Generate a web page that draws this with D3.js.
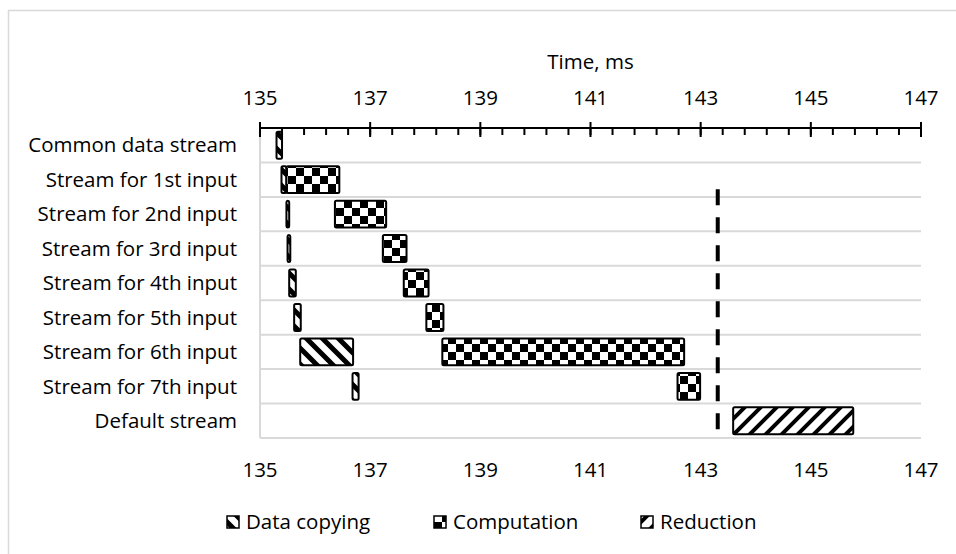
<!DOCTYPE html>
<html>
<head>
<meta charset="utf-8">
<script src="https://cdn.jsdelivr.net/npm/d3@7"></script>
<style>
  body { margin: 0; background: #fff; }
  text { font-family: "Open Sans", sans-serif; fill: #000; font-size: 20.5px; }
</style>
</head>
<body>
<div id="chart"></div>
<script>
// rows, top to bottom
const streams = ["Common data stream", "Stream for 1st input", "Stream for 2nd input",
  "Stream for 3rd input", "Stream for 4th input", "Stream for 5th input",
  "Stream for 6th input", "Stream for 7th input", "Default stream"];

// times in ms, null = nothing in that row
const copyStart = [135.30, 135.39, 135.48, 135.50, 135.53, 135.62, 135.73, 136.68, null];
const copyEnd   = [135.40, 135.48, 135.53, 135.55, 135.65, 135.74, 136.69, 136.79, null];
const compStart = [null, 135.48, 136.36, 137.23, 137.61, 138.02, 138.31, 142.58, null];
const compEnd   = [null, 136.44, 137.29, 137.66, 138.06, 138.33, 142.70, 142.99, null];
const redStart  = [null, null, null, null, null, null, null, null, 143.59];
const redEnd    = [null, null, null, null, null, null, null, null, 145.77];

const syncTime = 143.31;   // dashed line
const majorTicks = [135, 137, 139, 141, 143, 145, 147];
const legendNames = ["Data copying", "Computation", "Reduction"];

const W = 956, H = 554;
const svg = d3.select("#chart").append("svg")
  .attr("width", W).attr("height", H);

// patterns
const defs = svg.append("defs");
let p = defs.append("pattern").attr("id", "checker")
  .attr("patternUnits", "userSpaceOnUse").attr("width", 16).attr("height", 16);
p.append("rect").attr("width", 16).attr("height", 16).attr("fill", "#fff");
p.append("rect").attr("width", 8).attr("height", 8).attr("fill", "#000");
p.append("rect").attr("x", 8).attr("y", 8).attr("width", 8).attr("height", 8).attr("fill", "#000");

p = defs.append("pattern").attr("id", "down")
  .attr("patternUnits", "userSpaceOnUse").attr("width", 16).attr("height", 16);
p.append("rect").attr("width", 16).attr("height", 16).attr("fill", "#fff");
p.append("path").attr("d", "M-4,-4L20,20M-4,12L4,20M12,-4L20,4")
  .attr("stroke", "#000").attr("stroke-width", 5);

p = defs.append("pattern").attr("id", "up")
  .attr("patternUnits", "userSpaceOnUse").attr("width", 16).attr("height", 16);
p.append("rect").attr("width", 16).attr("height", 16).attr("fill", "#fff");
p.append("path").attr("d", "M-4,20L20,-4M-4,4L4,-4M12,20L20,12")
  .attr("stroke", "#000").attr("stroke-width", 4);

// outer frame
svg.append("rect").attr("x", 8.5).attr("y", 10.5)
  .attr("width", 980).attr("height", 580)
  .attr("fill", "none").attr("stroke", "#d9d9d9").attr("stroke-width", 1.5);

const x = d3.scaleLinear().domain([135, 147]).range([260, 921]);
const y = d3.scaleBand().domain(streams).range([128, 438]).paddingInner(0).paddingOuter(0);
const bh = y.bandwidth() * 0.78;
const off = (y.bandwidth() - bh) / 2;

// grid lines between rows
svg.append("g").selectAll("line")
  .data(streams)
  .join("line")
  .attr("x1", x(135)).attr("x2", x(147))
  .attr("y1", d => y(d) + y.bandwidth()).attr("y2", d => y(d) + y.bandwidth())
  .attr("stroke", "#d9d9d9").attr("stroke-width", 2);

svg.append("line")
  .attr("x1", x(135)).attr("x2", x(135))
  .attr("y1", y.range()[0]).attr("y2", y.range()[1])
  .attr("stroke", "#d9d9d9").attr("stroke-width", 2);

// category labels
svg.append("g").selectAll("text")
  .data(streams)
  .join("text")
  .attr("x", 237)
  .attr("y", d => y(d) + y.bandwidth() / 2)
  .attr("dy", "0.35em")
  .attr("text-anchor", "end")
  .text(d => d);

// top axis
const axisY = y.range()[0];
const minorTicks = d3.range(0, 31).map(i => 135 + i * 0.4);
svg.append("line").attr("x1", x(135)).attr("x2", x(147))
  .attr("y1", axisY).attr("y2", axisY)
  .attr("stroke", "#000").attr("stroke-width", 2);
svg.append("g").selectAll("line")
  .data(minorTicks)
  .join("line")
  .attr("x1", d => x(d)).attr("x2", d => x(d))
  .attr("y1", axisY).attr("y2", axisY + 7)
  .attr("stroke", "#000").attr("stroke-width", 2);
svg.append("g").selectAll("line")
  .data(majorTicks)
  .join("line")
  .attr("x1", d => x(d)).attr("x2", d => x(d))
  .attr("y1", axisY - 6).attr("y2", axisY + 9)
  .attr("stroke", "#000").attr("stroke-width", 2);

svg.append("g").selectAll("text")
  .data(majorTicks)
  .join("text")
  .attr("x", d => x(d)).attr("y", 98)
  .attr("dy", "0.35em")
  .attr("text-anchor", "middle")
  .text(d => d);

svg.append("g").selectAll("text")
  .data(majorTicks)
  .join("text")
  .attr("x", d => x(d)).attr("y", 470)
  .attr("dy", "0.35em")
  .attr("text-anchor", "middle")
  .text(d => d);

svg.append("text")
  .attr("x", (x(135) + x(147)) / 2).attr("y", 62)
  .attr("dy", "0.35em")
  .attr("text-anchor", "middle")
  .text("Time, ms");

// bars
function drawBars(starts, ends, fill) {
  const rows = streams.map((s, i) => ({ s, a: starts[i], b: ends[i] }))
    .filter(d => d.a !== null);
  svg.append("g").selectAll("rect")
    .data(rows)
    .join("rect")
    .attr("x", d => x(d.a))
    .attr("y", d => y(d.s) + off)
    .attr("width", d => x(d.b) - x(d.a))
    .attr("height", bh)
    .attr("rx", 1.5)
    .attr("fill", fill)
    .attr("stroke", "#000")
    .attr("stroke-width", 2);
}
drawBars(copyStart, copyEnd, "url(#down)");
drawBars(compStart, compEnd, "url(#checker)");
drawBars(redStart, redEnd, "url(#up)");

// dashed sync line
svg.append("line")
  .attr("x1", x(syncTime)).attr("x2", x(syncTime))
  .attr("y1", y(streams[1]) + y.bandwidth() * 0.78)
  .attr("y2", y(streams[8]) + y.bandwidth() - 1)
  .attr("stroke", "#000").attr("stroke-width", 4)
  .attr("stroke-dasharray", "16,12");

// legend
const legendX = [227, 434, 641];
const legendFill = ["url(#down)", "url(#checker)", "url(#up)"];
const lg = svg.append("g").selectAll("g")
  .data(legendNames)
  .join("g")
  .attr("transform", (d, i) => `translate(${legendX[i]},522)`);
lg.append("rect")
  .attr("x", 0).attr("y", -6).attr("width", 12).attr("height", 12)
  .attr("fill", (d, i) => legendFill[i])
  .attr("stroke", "#000").attr("stroke-width", 1.5);
lg.append("text")
  .attr("x", 19).attr("y", 0).attr("dy", "0.35em")
  .text(d => d);
</script>
</body>
</html>
